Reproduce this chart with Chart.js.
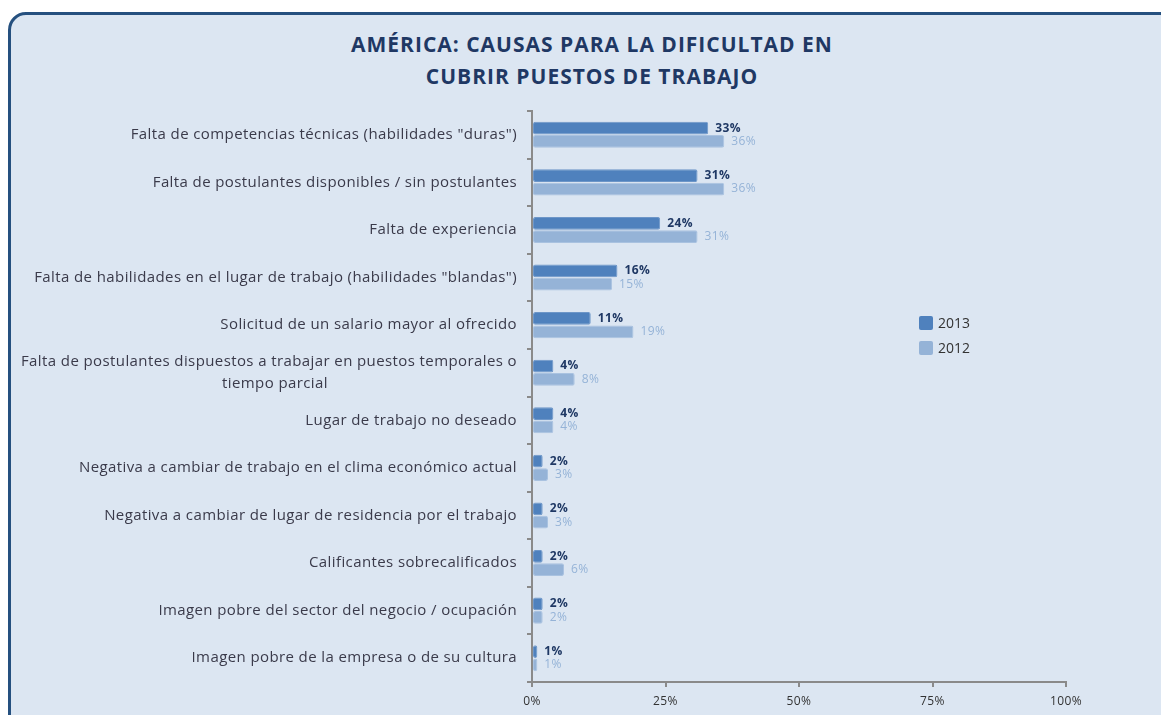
<!DOCTYPE html>
<html>
<head>
<meta charset="utf-8">
<script src="https://cdn.jsdelivr.net/npm/chart.js@4"></script>
<style>
  html, body { margin: 0; padding: 0; background: #ffffff; width: 1161px; height: 715px; overflow: hidden; }
  #panel {
    position: absolute; left: 8px; top: 12px; width: 1170px; height: 730px;
    box-sizing: border-box;
    background: #dce6f2;
    border: 3px solid #25507f;
    border-radius: 18px;
  }
  #title {
    position: absolute; left: 0; top: 28px; width: 1184px;
    text-align: center;
    font-family: "Open Sans", sans-serif; font-weight: bold; font-size: 21px;
    letter-spacing: 1px;
    line-height: 32px; color: #1f3864;
  }
  #legend { position: absolute; left: 919px; top: 316px; font-family: "Open Sans", sans-serif; font-size: 14px; color: #333; }
  #legend div { height: 25px; display: flex; align-items: flex-start; }
  #legend span.box { display: inline-block; width: 14px; height: 14px; border-radius: 2px; margin-right: 5px; }
  #legend span.txt { line-height: 14px; }
  #chartWrap { position: absolute; left: 0; top: 0; width: 1161px; height: 715px; }
</style>
</head>
<body>
<div id="panel"></div>
<div id="title">AMÉRICA: CAUSAS PARA LA DIFICULTAD EN<br>CUBRIR PUESTOS DE TRABAJO</div>
<div id="chartWrap"><canvas id="chart" width="1161" height="715"></canvas></div>
<div id="legend"></div>
<script>
// categories (top to bottom)
const categories = [
    'Falta de competencias técnicas (habilidades "duras")',
    'Falta de postulantes disponibles / sin postulantes',
    'Falta de experiencia',
    'Falta de habilidades en el lugar de trabajo (habilidades "blandas")',
    'Solicitud de un salario mayor al ofrecido',
    ['Falta de postulantes dispuestos a trabajar en puestos temporales o', 'tiempo parcial' + ' '.repeat(44)],
    'Lugar de trabajo no deseado',
    'Negativa a cambiar de trabajo en el clima económico actual',
    'Negativa a cambiar de lugar de residencia por el trabajo',
    'Calificantes sobrecalificados',
    'Imagen pobre del sector del negocio / ocupación',
    'Imagen pobre de la empresa o de su cultura'
];
const seriesNames = ["2013", "2012"];
const values2013 = [33, 31, 24, 16, 11, 4, 4, 2, 2, 2, 2, 1];
const values2012 = [36, 36, 31, 15, 19, 8, 4, 3, 3, 6, 2, 1];
const xTicks = [0, 25, 50, 75, 100];

const barColors = ["#4f81bd", "#95b3d7"];
const labelColors = ["#1f3864", "#95b3d7"];

document.addEventListener("DOMContentLoaded", function () {
    // html legend, inside the plot like the original
    const legend = document.getElementById("legend");
    seriesNames.forEach(function (name, i) {
        const row = document.createElement("div");
        row.innerHTML = "<span class='box' style='background:" + barColors[i] + "'></span><span class='txt'>" + name + "</span>";
        legend.appendChild(row);
    });

    // the original font is a bit spaced out
    const spacing = {
        id: "spacing",
        beforeUpdate(chart) { chart.ctx.letterSpacing = "0.4px"; },
        beforeDraw(chart) { chart.ctx.letterSpacing = "0.4px"; }
    };

    // value labels to the right of each bar
    const valueLabels = {
        id: "valueLabels",
        afterDatasetsDraw(chart) {
            const ctx = chart.ctx;
            ctx.save();
            ctx.textBaseline = "middle";
            ctx.textAlign = "left";
            chart.data.datasets.forEach(function (ds, di) {
                const meta = chart.getDatasetMeta(di);
                ctx.fillStyle = labelColors[di];
                ctx.font = (di === 0 ? "bold " : "") + "12px 'Open Sans', sans-serif";
                meta.data.forEach(function (bar, i) {
                    ctx.fillText(ds.data[i] + "%", bar.x + 7, bar.y);
                });
            });
            ctx.restore();
        }
    };

    const canvas = document.getElementById("chart");
    new Chart(canvas.getContext("2d"), {
        type: "bar",
        data: {
            labels: categories,
            datasets: [
                { label: seriesNames[0], data: values2013, backgroundColor: barColors[0], borderColor: "#6d96c8", borderWidth: 1, borderRadius: 2, borderSkipped: false },
                { label: seriesNames[1], data: values2012, backgroundColor: barColors[1], borderColor: "#a9c2e0", borderWidth: 1, borderRadius: 2, borderSkipped: false }
            ]
        },
        options: {
            indexAxis: "y",
            responsive: false,
            animation: false,
            layout: { padding: { left: 20, right: 95, top: 111, bottom: 3 } },
            datasets: { bar: { categoryPercentage: 0.56, barPercentage: 0.96 } },
            plugins: {
                legend: { display: false },
                title: { display: false },
                tooltip: { enabled: false }
            },
            scales: {
                x: {
                    min: 0,
                    max: 100,
                    afterBuildTicks: function (scale) { scale.ticks = xTicks.map(v => ({ value: v })); },
                    afterFit: function (scale) { scale.height = 30; },
                    border: { color: "#8a8a8a", width: 2 },
                    grid: { drawOnChartArea: false, drawTicks: true, tickLength: 5, color: "#8a8a8a", lineWidth: 2 },
                    ticks: {
                        color: "#333",
                        padding: 7,
                        font: { family: "'Open Sans', sans-serif", size: 12 },
                        callback: function (v) { return v + "%"; }
                    }
                },
                y: {
                    afterFit: function (scale) { scale.width = 512; },
                    border: { color: "#8a8a8a", width: 2 },
                    grid: { drawOnChartArea: false, drawTicks: true, tickLength: 5, color: "#8a8a8a", lineWidth: 2, offset: true },
                    ticks: {
                        color: "#3a3a4a",
                        padding: 10,
                        font: { family: "'Open Sans', sans-serif", size: 15, lineHeight: 1.45 },
                        autoSkip: false
                    }
                }
            }
        },
        plugins: [spacing, valueLabels]
    });
});
</script>
</body>
</html>
